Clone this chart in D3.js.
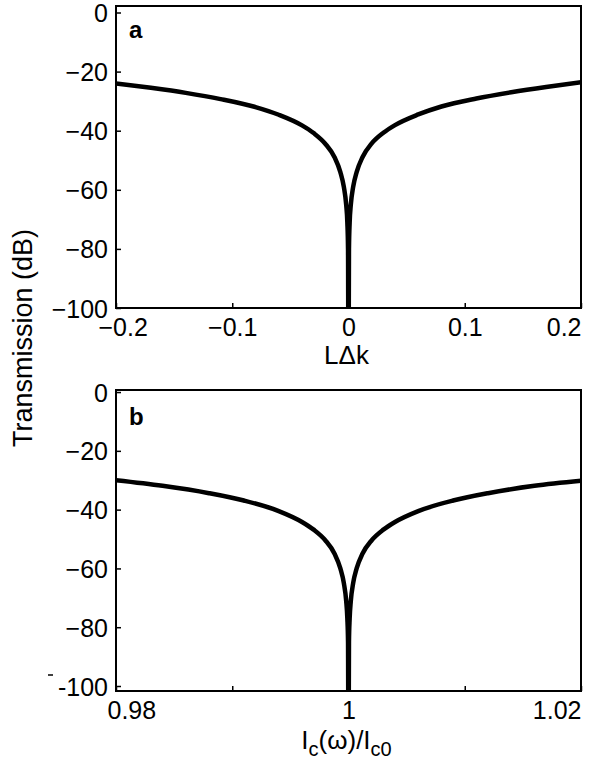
<!DOCTYPE html>
<html>
<head>
<meta charset="utf-8">
<script src="https://cdn.jsdelivr.net/npm/d3@7"></script>
<style>
  body { margin: 0; background: #fff; }
  svg { display: block; font-family: "Liberation Sans", Arial, Helvetica, sans-serif; }
  .tick text { font-size: 25px; fill: #000; }
</style>
</head>
<body>
<svg width="594" height="762"></svg>
<script>
// panel a: transmission against L*dk
var dkValues = [-0.2, -0.17, -0.14, -0.11, -0.08, -0.06, -0.04, -0.03, -0.02, -0.012, -0.007, -0.004, -0.002, -0.001, -0.0004, 0,
                0.0004, 0.001, 0.002, 0.004, 0.007, 0.012, 0.02, 0.03, 0.04, 0.06, 0.08, 0.11, 0.14, 0.17, 0.2];
var dbA = [-24, -25.5, -27.2, -29.3, -32, -34.6, -38.2, -40.8, -44.4, -49, -54, -59, -65, -71, -80, -130,
           -80, -71, -65, -59, -54, -49, -44.3, -40.7, -38.1, -34.5, -31.8, -29.1, -27, -25.2, -23.6];

// panel b: transmission against Ic(w)/Ic0
var icValues = [0.98, 0.984, 0.988, 0.991, 0.994, 0.996, 0.997, 0.998, 0.9988, 0.9993, 0.9996, 0.9998, 0.9999, 0.99996, 1,
                1.00004, 1.0001, 1.0002, 1.0004, 1.0007, 1.0012, 1.002, 1.003, 1.004, 1.006, 1.009, 1.012, 1.016, 1.02];
var dbB = [-30, -31.9, -34.4, -36.9, -40.5, -44.2, -46.8, -50.4, -55, -60, -65, -71, -77, -85, -130,
           -85, -77, -71, -65, -60, -55, -50.4, -46.8, -44.2, -40.5, -36.9, -34.4, -31.9, -30.2];

// tick labels
var yTicks = [0, -20, -40, -60, -80, -100];
var yLabelsA = ["0", "\u221220", "\u221240", "\u221260", "\u221280", "\u2212100"];
var yLabelsB = ["0", "\u221220", "\u221240", "\u221260", "\u221280", "-100"];
var xTicksA = [-0.2, -0.1, 0, 0.1, 0.2];
var xLabelsA = ["\u22120.2", "\u22120.1", "0", "0.1", "0.2"];
var xTicksB = [0.98, 0.99, 1, 1.01, 1.02];
var xLabelsB = ["0.98", "", "1", "", "1.02"];

var svg = d3.select("svg"),
    margin = {left: 116, right: 13},
    width = +svg.attr("width") - margin.left - margin.right;

function panel(opt) {
  var h = opt.bottom - opt.top;
  var x = d3.scaleLinear().domain(opt.xDomain).range([0, width]);
  var y = d3.scaleLinear().domain(opt.yDomain).range([h, 0]);

  var g = svg.append("g")
      .attr("transform", "translate(" + margin.left + "," + opt.top + ")");

  g.append("clipPath").attr("id", "clip-" + opt.name)
    .append("rect").attr("width", width).attr("height", h);

  // y-as
  var ya = g.append("g")
      .call(d3.axisLeft(y).tickValues(yTicks).tickSizeInner(-5).tickSizeOuter(0).tickPadding(8)
        .tickFormat(function(d, i) { return opt.yLabels[i]; }));
  ya.select(".domain").remove();
  ya.selectAll(".tick line").attr("stroke-width", 1.5);
  ya.selectAll(".tick text").attr("dy", "0.36em");

  // x-as
  var xa = g.append("g")
      .attr("transform", "translate(0," + h + ")")
      .call(d3.axisBottom(x).tickValues(opt.xTicks).tickSizeInner(-5).tickSizeOuter(0).tickPadding(10)
        .tickFormat(function(d, i) { return opt.xLabels[i]; }));
  xa.select(".domain").remove();
  xa.selectAll(".tick line").attr("stroke-width", 1.5);
  var n = opt.xTicks.length;
  xa.selectAll(".tick text")
      .attr("text-anchor", function(d, i) { return i === 0 ? "start" : (i === n - 1 ? "end" : "middle"); })
      .attr("x", function(d, i) { return i === 0 ? opt.firstDx : 0; });

  // de curve
  var line = d3.line()
      .curve(d3.curveMonotoneX)
      .x(function(d) { return x(d[0]); })
      .y(function(d) { return y(d[1]); });

  g.append("path")
      .datum(d3.zip(opt.xs, opt.ys))
      .attr("clip-path", "url(#clip-" + opt.name + ")")
      .attr("fill", "none")
      .attr("stroke", "#000")
      .attr("stroke-width", 4.5)
      .attr("stroke-linejoin", "round")
      .attr("d", line);

  // kader
  g.append("rect")
      .attr("width", width)
      .attr("height", h)
      .attr("fill", "none")
      .attr("stroke", "#000")
      .attr("stroke-width", 2);

  // paneel letter
  g.append("text")
      .attr("x", 13)
      .attr("y", opt.letterY)
      .style("font-size", "24px")
      .style("font-weight", "bold")
      .text(opt.name);

  // x label
  var xl = g.append("text")
      .attr("x", width / 2 - 2)
      .attr("y", h + opt.labelDy)
      .attr("text-anchor", "middle")
      .style("font-size", "26px");
  opt.xTitle(xl);

  return g;
}

panel({
  name: "a", top: 6, bottom: 308,
  xDomain: [-0.2, 0.2], yDomain: [-100, 2.2],
  xs: dkValues, ys: dbA,
  yLabels: yLabelsA, xTicks: xTicksA, xLabels: xLabelsA, firstDx: -18,
  letterY: 32, labelDy: 56,
  xTitle: function(t) { t.text("L\u0394k"); }
});

var gb = panel({
  name: "b", top: 390, bottom: 691,
  xDomain: [0.98, 1.02], yDomain: [-101.7, 0.7],
  xs: icValues, ys: dbB,
  yLabels: yLabelsB, xTicks: xTicksB, xLabels: xLabelsB, firstDx: -9,
  letterY: 35, labelDy: 58,
  xTitle: function(t) {
    t.append("tspan").text("I");
    t.append("tspan").attr("dy", 7).style("font-size", "20px").text("c");
    t.append("tspan").attr("dy", -7).text("(\u03c9)/I");
    t.append("tspan").attr("dy", 7).style("font-size", "20px").text("c0");
  }
});

// klein streepje bij -100 (zoals in het origineel)
gb.append("line")
    .attr("x1", -68).attr("x2", -63)
    .attr("y1", -16 + 301).attr("y2", -16 + 301)
    .attr("stroke", "#000").attr("stroke-width", 1.5);

// y-as titel
svg.append("text")
    .attr("transform", "translate(32,338) rotate(-90)")
    .attr("text-anchor", "middle")
    .style("font-size", "27px")
    .text("Transmission (dB)");
</script>
</body>
</html>
